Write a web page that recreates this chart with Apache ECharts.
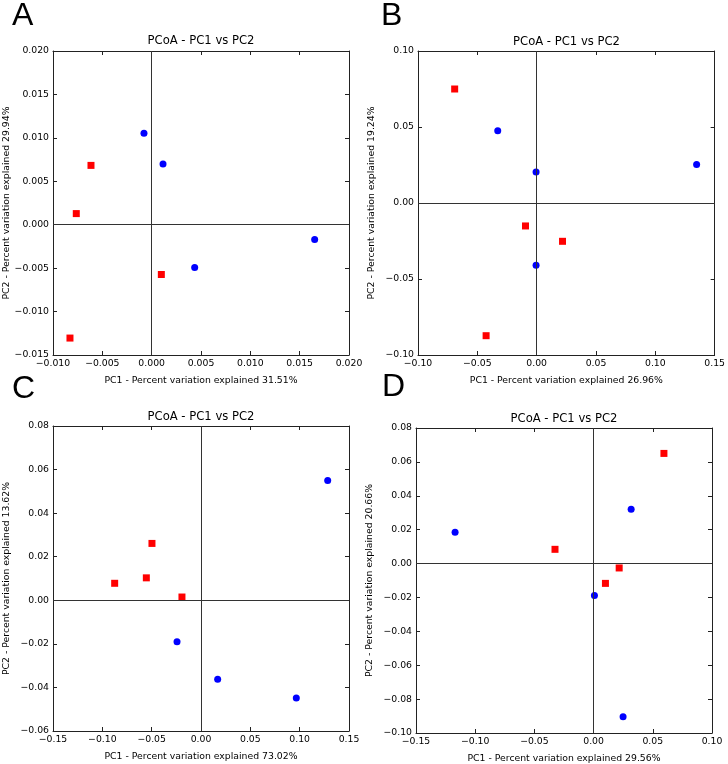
<!DOCTYPE html>
<html>
<head>
<meta charset="utf-8">
<script src="https://cdn.jsdelivr.net/npm/echarts@6/dist/echarts.min.js"></script>
<style>
html,body{margin:0;padding:0;background:#fff;}
#chart{width:728px;height:764px;}
</style>
</head>
<body>
<div id="chart"></div>
<script>
// Panel letters and titles
const panelLetters = ['A', 'B', 'C', 'D'];
const panelTitle = 'PCoA - PC1 vs PC2';
const xNames = [
  'PC1 - Percent variation explained 31.51%',
  'PC1 - Percent variation explained 26.96%',
  'PC1 - Percent variation explained 73.02%',
  'PC1 - Percent variation explained 29.56%'
];
const yNames = [
  'PC2 - Percent variation explained 29.94%',
  'PC2 - Percent variation explained 19.24%',
  'PC2 - Percent variation explained 13.62%',
  'PC2 - Percent variation explained 20.66%'
];
// Axis ranges [min, max, interval, decimals]
const xRanges = [[-0.010, 0.020, 0.005, 3], [-0.10, 0.15, 0.05, 2], [-0.15, 0.15, 0.05, 2], [-0.15, 0.10, 0.05, 2]];
const yRanges = [[-0.015, 0.020, 0.005, 3], [-0.10, 0.10, 0.05, 2], [-0.06, 0.08, 0.02, 2], [-0.10, 0.08, 0.02, 2]];

// Data: [PC1, PC2]
const A_red  = [[-0.00615, 0.00683], [-0.00764, 0.00128], [0.00098, -0.00573], [-0.00828, -0.01305]];
const A_blue = [[-0.00078, 0.01054], [0.00115, 0.00698], [0.00436, -0.00493], [0.01652, -0.00171]];
const B_red  = [[-0.0691, 0.0750], [-0.0094, -0.0151], [0.0218, -0.0252], [-0.0426, -0.0873]];
const B_blue = [[-0.0328, 0.0476], [-0.0005, 0.0204], [-0.0005, -0.0410], [0.1348, 0.0254]];
const C_red  = [[-0.0497, 0.0261], [-0.0554, 0.0103], [-0.0875, 0.0078], [-0.0193, 0.0015]];
const C_blue = [[0.1284, 0.0550], [-0.0243, -0.0190], [0.0169, -0.0362], [0.0966, -0.0448]];
const D_red  = [[0.0594, 0.0650], [-0.0326, 0.0084], [0.0216, -0.0026], [0.0100, -0.0117]];
const D_blue = [[-0.1170, 0.0185], [0.0317, 0.0321], [0.0007, -0.0188], [0.0249, -0.0904]];

const redSets = [A_red, B_red, C_red, D_red];
const blueSets = [A_blue, B_blue, C_blue, D_blue];

const FONT = 'DejaVu Sans';
const LETTER_FONT = 'Liberation Sans';
const grids = [
  {left: 53, top: 51, width: 296, height: 304},
  {left: 418, top: 51, width: 297, height: 304},
  {left: 53, top: 426, width: 296, height: 305},
  {left: 416, top: 428, width: 296, height: 305}
];
const letterPos = [[12, 16], [381, 16], [12, 389], [382, 387]];
const titleY = [41, 42, 417, 419];

function fmt(d) {
  return function (v) {
    const r = Number(v.toFixed(d));
    if (Math.abs(r) < 1e-12) return (0).toFixed(d);
    return (r < 0 ? '\u2212' : '') + Math.abs(r).toFixed(d);
  };
}

const xAxis = [], yAxis = [], series = [], graphic = [];
const lineStyle = {color: '#222', width: 1};
grids.forEach((g, i) => {
  const xr = xRanges[i], yr = yRanges[i];
  const base = {
    type: 'value', gridIndex: i, splitLine: {show: false},
    axisLine: {show: true, onZero: false, lineStyle: lineStyle},
    axisTick: {show: true, inside: true, length: 4, lineStyle: lineStyle}
  };
  xAxis.push(Object.assign({}, base, {
    position: 'bottom', min: xr[0], max: xr[1], interval: xr[2],
    name: xNames[i], nameLocation: 'middle', nameGap: 21,
    nameTextStyle: {fontFamily: FONT, fontSize: 9.3, color: '#000'},
    axisLabel: {formatter: fmt(xr[3]), fontFamily: FONT, fontSize: 9.3, color: '#000', margin: 4, showMinLabel: true, showMaxLabel: true}
  }));
  xAxis.push(Object.assign({}, base, {
    position: 'top', min: xr[0], max: xr[1], interval: xr[2], axisLabel: {show: false}
  }));
  yAxis.push(Object.assign({}, base, {
    position: 'left', min: yr[0], max: yr[1], interval: yr[2],
    name: yNames[i], nameLocation: 'middle', nameGap: 42, nameRotate: 90,
    nameTextStyle: {fontFamily: FONT, fontSize: 9.3, color: '#000'},
    axisLabel: {formatter: fmt(yr[3]), fontFamily: FONT, fontSize: 9.3, color: '#000', margin: 4, showMinLabel: true, showMaxLabel: true}
  }));
  yAxis.push(Object.assign({}, base, {
    position: 'right', min: yr[0], max: yr[1], interval: yr[2], axisLabel: {show: false}
  }));
  series.push({
    type: 'scatter', xAxisIndex: 2 * i, yAxisIndex: 2 * i,
    data: blueSets[i], symbol: 'circle', symbolSize: 7,
    itemStyle: {color: '#0000ff', opacity: 1}, z: 3,
    markLine: {
      silent: true, symbol: 'none', animation: false,
      label: {show: false},
      lineStyle: {color: '#333', width: 1, type: 'solid'},
      data: [{xAxis: 0}, {yAxis: 0}]
    }
  });
  series.push({
    type: 'scatter', xAxisIndex: 2 * i, yAxisIndex: 2 * i,
    data: redSets[i], symbol: 'rect', symbolSize: 7,
    itemStyle: {color: '#ff0000', opacity: 1}, z: 3
  });
  graphic.push({
    type: 'text', x: letterPos[i][0], y: letterPos[i][1],
    style: {text: panelLetters[i], fontFamily: LETTER_FONT, fontSize: 32, fill: '#000', align: 'left', verticalAlign: 'middle', textAlign: 'left', textVerticalAlign: 'middle'}
  });
  graphic.push({
    type: 'text', x: g.left + g.width / 2, y: titleY[i],
    style: {text: panelTitle, fontFamily: FONT, fontSize: 11.6, fill: '#000', align: 'center', verticalAlign: 'middle', textAlign: 'center', textVerticalAlign: 'middle'}
  });
});

const chart = echarts.init(document.getElementById('chart'), null, {renderer: 'canvas'});
chart.setOption({
  animation: false,
  backgroundColor: '#fff',
  grid: grids.map(g => Object.assign({containLabel: false}, g)),
  xAxis: xAxis,
  yAxis: yAxis,
  series: series,
  graphic: graphic
});
</script>
</body>
</html>
